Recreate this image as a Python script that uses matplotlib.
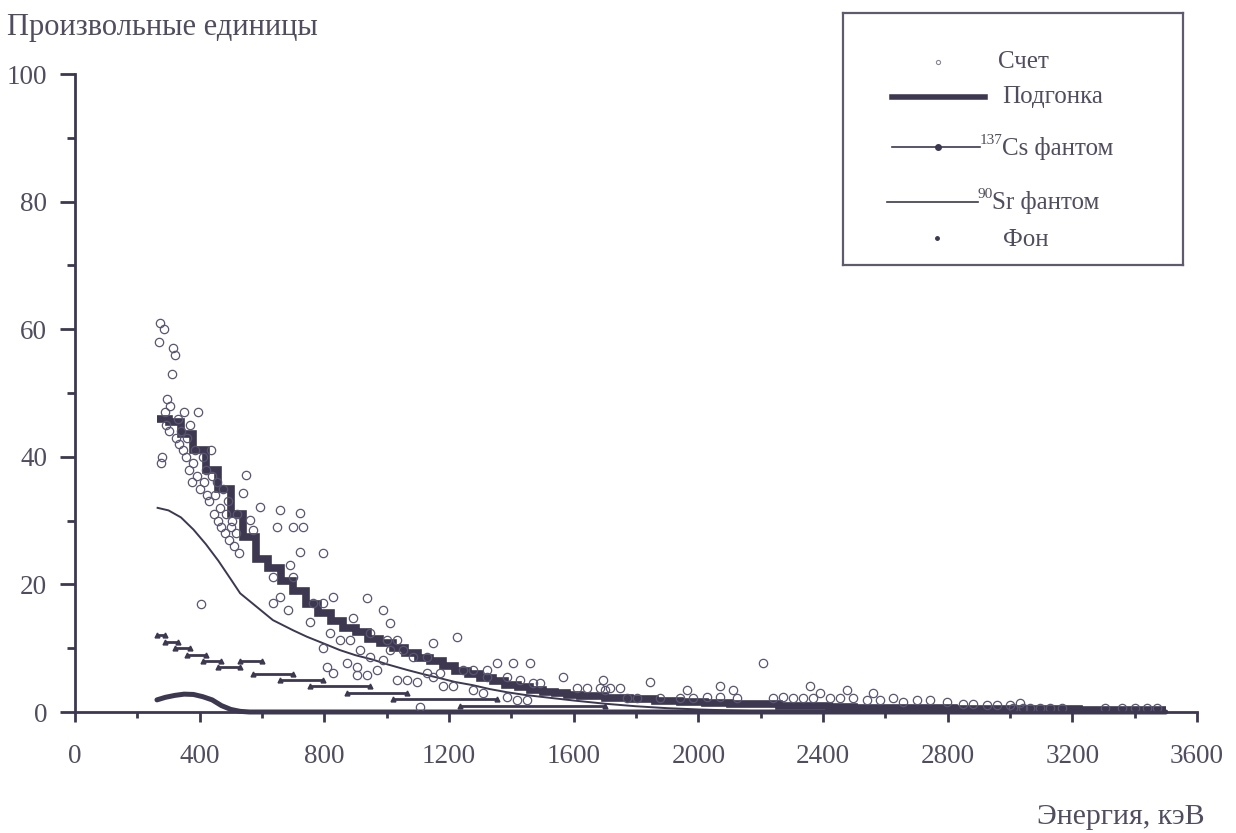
# Спектр: счет, подгонка, фантомы 137Cs и 90Sr, фон
import numpy as np
import matplotlib
matplotlib.use('Agg')
import matplotlib.pyplot as plt

plt.rcParams['font.family'] = ['Liberation Serif', 'DejaVu Serif']

ink = '#3d3850'
txt = '#524d5e'

# Счет (открытые кружки), энергия кэВ / значение
cnt_e = [268, 272, 276, 280, 284, 288, 292, 296, 300, 305, 310, 315, 320, 325, 330, 335,
         340, 345, 350, 355, 360, 365, 370, 375, 380, 385, 390, 395, 400, 405, 410, 415,
         420, 425, 430, 435, 440, 445, 450, 455, 460, 465, 470, 475, 480, 485, 490, 495,
         500, 505, 510, 515, 520, 525,
         550, 539, 594, 658, 722, 561, 648, 699, 731, 571, 722, 796, 690, 635, 699, 658,
         635, 683, 764, 796, 754, 828, 937, 988, 892, 1011, 818, 850, 882, 914, 796, 946,
         1001, 1033, 946, 873, 905, 969, 808, 828, 905, 937, 988, 1011, 1052, 1084, 1129,
         1149, 1225, 1033, 1065, 1097, 1129, 1171, 1181, 1213, 1245, 1277, 1322, 1354, 1405,
         1460, 1322, 1386, 1428, 1469, 1277, 1309, 1386, 1418, 1450, 1107, 1149,
         1566, 1492, 1610, 1643, 1684, 1716, 1748, 1694, 1845, 1771, 1803, 1877, 1941,
         1983, 2028, 2069, 2124, 1963, 2069, 2207, 2111, 2239, 2271, 2303, 2335, 2368, 2390,
         2422, 2454, 2496, 2541, 2583, 2624, 2656, 2701, 2743, 2797, 2850, 2880, 2926, 2958,
         2999, 3032, 2358, 2477, 2560, 1700,
         3010, 3042, 3064, 3096, 3128, 3166, 3305, 3359, 3401, 3439, 3471]
cnt_v = [58, 61, 39, 40, 60, 47, 45, 49, 44, 48, 53, 57, 56, 43, 46, 42,
         44, 41, 47, 40, 43, 38, 45, 36, 39, 41, 37, 47, 35, 17, 40, 36,
         38, 34, 33, 41, 37, 31, 34, 36, 30, 32, 29, 35, 28, 31, 33, 27,
         29, 30, 26, 28, 31, 25,
         37.1, 34.3, 32.1, 31.7, 31.2, 30.1, 29.0, 29.0, 29.0, 28.5, 25.1, 24.9, 23.0, 21.2, 21.2, 18.0,
         17.1, 16.0, 17.1, 17.1, 14.1, 18.0, 17.9, 16.0, 14.7, 13.9, 12.4, 11.3, 11.3, 9.7, 10.0, 12.4,
         11.3, 11.3, 8.6, 7.7, 7.1, 6.6, 7.1, 6.1, 5.8, 5.8, 8.2, 9.7, 9.7, 8.6, 8.6,
         10.8, 11.8, 5.0, 5.0, 4.7, 6.1, 6.1, 4.0, 4.0, 6.6, 6.6, 6.6, 7.7, 7.7,
         7.7, 5.5, 5.5, 5.0, 4.5, 3.4, 2.9, 2.4, 1.9, 1.9, 0.8, 5.5,
         5.5, 4.5, 3.8, 3.8, 3.8, 3.8, 3.8, 5.0, 4.7, 2.2, 2.2, 2.2, 2.2,
         2.2, 2.4, 2.4, 2.2, 3.4, 4.0, 7.7, 3.4, 2.2, 2.4, 2.2, 2.2, 2.2, 2.9,
         2.2, 2.2, 2.2, 1.9, 1.9, 2.2, 1.6, 1.9, 1.9, 1.6, 1.3, 1.2, 1.1, 1.1,
         1.1, 1.4, 4.0, 3.4, 2.9, 3.5,
         0.6, 0.6, 0.6, 0.6, 0.6, 0.6, 0.7, 0.7, 0.7, 0.7, 0.7]

# Подгонка (ступеньки): границы бинов и значения
fit_edges = [262, 300, 340, 380, 420, 460, 500, 540, 580, 620, 660, 700, 740, 780, 820,
             860, 900, 940, 980, 1020, 1060, 1100, 1140, 1180, 1220, 1260, 1300, 1340,
             1380, 1420, 1460, 1500, 1540, 1580, 1620, 1700, 1780, 1860, 1940, 2020, 2100,
             2180, 2260, 2340, 2420, 2500, 2580, 2660, 2740, 2820, 2900, 2980, 3060, 3140,
             3220, 3300, 3380, 3500]
fit_v = [46, 45.5, 43.5, 41, 38, 35, 31, 27.5, 24, 22.5, 20.5, 19, 17, 15.5, 14.3,
         13.2, 12.5, 11.5, 10.8, 10, 9.3, 8.5, 8, 7.2, 6.5, 6, 5.3, 4.8,
         4.3, 3.9, 3.5, 3.2, 2.9, 2.7, 2.5, 2.2, 2.0, 1.8, 1.6, 1.4, 1.3,
         1.2, 1.0, 0.9, 0.8, 0.7, 0.7, 0.6, 0.6, 0.5, 0.5, 0.4, 0.4, 0.4,
         0.3, 0.3, 0.3]

# 137Cs фантом
cs_e = [263, 290, 320, 350, 380, 410, 440, 470, 500, 530, 560, 3500]
cs_v = [1.9, 2.3, 2.6, 2.8, 2.75, 2.4, 1.9, 1.0, 0.4, 0.1, 0.0, 0.0]

# 90Sr фантом
sr_e = [265, 300, 340, 380, 420, 460, 500, 530, 600, 635, 700, 744, 800, 850, 900, 956,
        1000, 1065, 1120, 1171, 1220, 1277, 1330, 1386, 1440, 1492, 1600, 1700, 1800,
        1900, 2000, 2100, 2200, 2300, 2400, 2500]
sr_v = [32, 31.6, 30.5, 28.6, 26.3, 23.7, 20.8, 18.6, 15.8, 14.4, 12.8, 11.8, 10.7, 9.7, 8.9, 8.2,
        7.5, 6.6, 5.9, 5.3, 4.7, 4.2, 3.6, 3.1, 2.7, 2.4, 1.8, 1.3, 0.9,
        0.6, 0.4, 0.25, 0.12, 0.04, 0.0, 0.0]

# Фон: горизонтальные серии точек (уровень, от, до)
fon_v = [12, 11, 10, 9, 8, 7, 8, 6, 5, 4, 3, 2, 1]
fon_lo = [263, 290, 320, 360, 410, 460, 530, 571, 658, 754, 873, 1020, 1235]
fon_hi = [290, 330, 370, 420, 470, 530, 600, 699, 796, 946, 1065, 1354, 1700]

fig = plt.figure(figsize=(12.36, 8.33), dpi=100)
ax = fig.add_axes([75/1236, 121/833, 1122/1236, 638/833])

ax.hlines(fon_v, fon_lo, fon_hi, color=ink, lw=2.0)
ax.plot(fon_lo + fon_hi, fon_v + fon_v, ls='none', marker='^', ms=3.5, color=ink)
ax.plot(cs_e, cs_v, color=ink, lw=3.6, clip_on=False, solid_capstyle='round')
ax.plot(sr_e, sr_v, color=ink, lw=1.4, clip_on=False)
ax.stairs(fit_v, fit_edges, baseline=None, color=ink, lw=5.5, clip_on=False)
ax.plot(cnt_e, cnt_v, ls='none', marker='o', ms=6, mfc='none', mec='#5a5570', mew=0.9,
        clip_on=False)

ax.set_xlim(0, 3600)
ax.set_ylim(0, 100)
ax.set_xticks(range(0, 3601, 400))
ax.set_xticks(range(200, 3600, 400), minor=True)
ax.set_yticks(range(0, 101, 20))
ax.set_yticks(range(10, 100, 20), minor=True)
for s in ['top', 'right']:
    ax.spines[s].set_visible(False)
for s in ['left', 'bottom']:
    ax.spines[s].set_linewidth(2)
    ax.spines[s].set_color(ink)
ax.tick_params(axis='x', which='major', length=7, width=2, pad=16, labelsize=19.5,
               color=ink, labelcolor=txt)
ax.tick_params(axis='x', which='minor', length=4, width=2, color=ink)
ax.tick_params(axis='y', which='major', length=11, width=2, pad=9, labelsize=19.5,
               color=ink, labelcolor=txt)
ax.tick_params(axis='y', which='minor', length=6, width=2, color=ink)

fig.text(7/1236, 1 - 27/833, 'Произвольные единицы', ha='left', va='center',
         fontsize=22, color=txt)
fig.text(1205/1236, 1 - 817/833, 'Энергия, кэВ', ha='right', va='center',
         fontsize=21.5, color=txt)

# легенда в рамке
lax = fig.add_axes([843/1236, 1 - 265/833, 340/1236, 252/833])
lax.set_xlim(843, 1183)
lax.set_ylim(265, 13)
lax.set_xticks([])
lax.set_yticks([])
for s in lax.spines.values():
    s.set_linewidth(1.6)
    s.set_color('#5f5a6e')
lax.patch.set_alpha(0)

fs = 18
lax.plot([938], [62], ls='none', marker='o', ms=3, mfc='none', mec='#8a8598', mew=0.8)
lax.text(998, 62, 'Счет', va='center', fontsize=fs, color=txt)
lax.plot([892, 985], [97, 97], color=ink, lw=4)
lax.text(1002, 97, 'Подгонка', va='center', fontsize=fs, color=txt)
lax.plot([892, 980], [147, 147], color=ink, lw=1.2)
lax.plot([938], [147], ls='none', marker='o', ms=4, color=ink)
lax.text(980, 141, '137', va='center', fontsize=11, color=txt)
lax.text(1002, 149, 'Cs фантом', va='center', fontsize=fs, color=txt)
lax.plot([887, 978], [202, 202], color=ink, lw=1.2)
lax.text(978, 194, '90', va='center', fontsize=11, color=txt)
lax.text(992, 202, 'Sr фантом', va='center', fontsize=fs, color=txt)
lax.plot([937], [238], ls='none', marker='o', ms=2.5, color=ink)
lax.text(1003, 240, 'Фон', va='center', fontsize=fs, color=txt)

fig.savefig('out.png', dpi=100)
